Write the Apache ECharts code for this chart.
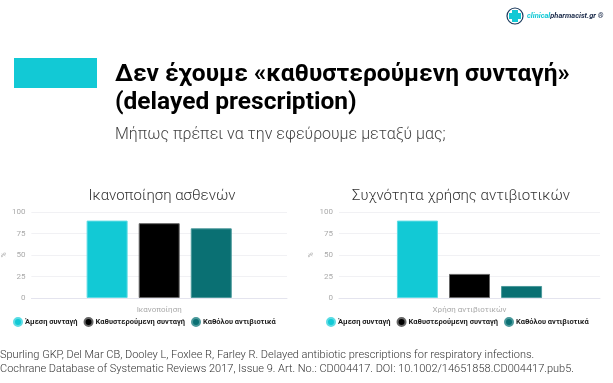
<!DOCTYPE html>
<html>
<head>
<meta charset="utf-8">
<script src="https://cdn.jsdelivr.net/npm/echarts@6/dist/echarts.min.js"></script>
<style>
html,body{margin:0;padding:0;background:#fff;}
#c{width:613px;height:383px;}
</style>
</head>
<body>
<div id="c"></div>
<script>
// ---- data ----
const seriesNames = ['Άμεση συνταγή', 'Καθυστερούμενη συνταγή', 'Καθόλου αντιβιοτικά'];
const chartTitles = ['Ικανοποίηση ασθενών', 'Συχνότητα χρήσης αντιβιοτικών'];
const chartCategories = [['Ικανοποίηση'], ['Χρήση αντιβιοτικών']];
const satisfactionValues = [90, 87, 81];
const antibioticUseValues = [90, 28, 14];
const yAxisName = '%';
const yMin = 0, yMax = 100, yInterval = 25;
const headline1 = 'Δεν έχουμε «καθυστερούμενη συνταγή»';
const headline2 = '(delayed prescription)';
const subtitle = 'Μήπως πρέπει να την εφεύρουμε μεταξύ μας;';
const citation1 = 'Spurling GKP, Del Mar CB, Dooley L, Foxlee R, Farley R. Delayed antibiotic prescriptions for respiratory infections.';
const citation2 = 'Cochrane Database of Systematic Reviews 2017, Issue 9. Art. No.: CD004417. DOI: 10.1002/14651858.CD004417.pub5.';

const colors = ['#12c9d5', '#000000', '#0a7073'];
const borders = ['#5cdce4', '#666666', '#4b999b'];
const chartValues = [satisfactionValues, antibioticUseValues];

const font = 'Roboto';
const chart = echarts.init(document.getElementById('c'));

const grids = [
  {left: 27, right: 326, top: 212, bottom: 85},
  {left: 339, right: 13, top: 212, bottom: 85}
];
const titleCenters = [157, 456];
const legendLefts = [13, 326];
const nameGaps = [22, 24];

const series = [];
chartValues.forEach((vals, ci) => {
  vals.forEach((v, si) => {
    series.push({
      type: 'bar',
      name: seriesNames[si],
      xAxisIndex: ci, yAxisIndex: ci,
      data: [v],
      barWidth: 41,
      barGap: '27%',
      itemStyle: {color: colors[si], borderColor: borders[si], borderWidth: 1},
      emphasis: {disabled: true}
    });
  });
});

const option = {
  animation: false,
  color: colors,
  textStyle: {fontFamily: font},
  title: chartTitles.map((t, i) => ({
    text: t, left: titleCenters[i], top: 184, textAlign: 'center',
    textStyle: {fontFamily: font, fontSize: 15, fontWeight: 300, color: '#333'}
  })),
  grid: grids,
  legend: legendLefts.map((l, i) => ({
    data: seriesNames, left: l, top: 317, width: 300, icon: 'circle', padding: 0,
    itemWidth: 8, itemHeight: 8, itemGap: 6,
    textStyle: {fontFamily: font, fontSize: 7.5, fontWeight: 'bold', color: '#222', padding: [0, 0, 0, -2]}
  })),
  xAxis: chartCategories.map((cats, i) => ({
    type: 'category', gridIndex: i, data: cats,
    axisLine: {lineStyle: {color: '#e4e4ee', width: 1}},
    axisTick: {show: false},
    axisLabel: {fontFamily: font, fontSize: 8, color: '#aaa', margin: 8}
  })),
  yAxis: grids.map((g, i) => ({
    type: 'value', gridIndex: i, min: yMin, max: yMax, interval: yInterval,
    name: yAxisName, nameLocation: 'middle', nameGap: nameGaps[i], nameRotate: 90,
    nameTextStyle: {fontFamily: font, fontSize: 7, color: '#aaa'},
    axisLine: {show: false}, axisTick: {show: false},
    axisLabel: {fontFamily: font, fontSize: 8, color: '#aaa', margin: 6},
    splitLine: {lineStyle: {color: '#f1f1f4'}}
  })),
  series: series,
  graphic: [
    {type: 'rect', shape: {x: 14, y: 58, width: 83, height: 30}, style: {fill: '#12c9d5'}},
    {type: 'text', left: 115, top: 62, style: {text: headline1, font: 'bold 24.5px Roboto', fill: '#000'}},
    {type: 'text', left: 115, top: 90, style: {text: headline2, font: 'bold 24.5px Roboto', fill: '#000'}},
    {type: 'text', left: 115, top: 127, style: {text: subtitle, font: '300 16px Roboto', fill: '#444'}},
    {type: 'text', left: 0, top: 350, style: {text: citation1, font: '300 11px Roboto', fill: '#333'}},
    {type: 'text', left: 0, top: 364, style: {text: citation2, font: '300 11px Roboto', fill: '#333'}},
    // logo
    {type: 'circle', shape: {cx: 515, cy: 16, r: 8}, style: {fill: '#fff', stroke: '#1b3a5c', lineWidth: 1.2}},
    {type: 'rect', shape: {x: 512, y: 10, width: 6, height: 12}, style: {fill: '#12c9d5'}},
    {type: 'rect', shape: {x: 509, y: 13, width: 12, height: 6}, style: {fill: '#12c9d5'}},
    {type: 'text', left: 527, top: 12, style: {
      text: '{a|clinical}{b|pharmacist.gr ®}',
      rich: {
        a: {font: 'italic bold 7.5px Roboto', fill: '#12c9d5'},
        b: {font: 'italic bold 7.5px Roboto', fill: '#1b2b4a'}
      }
    }}
  ]
};
chart.setOption(option);
</script>
</body>
</html>
